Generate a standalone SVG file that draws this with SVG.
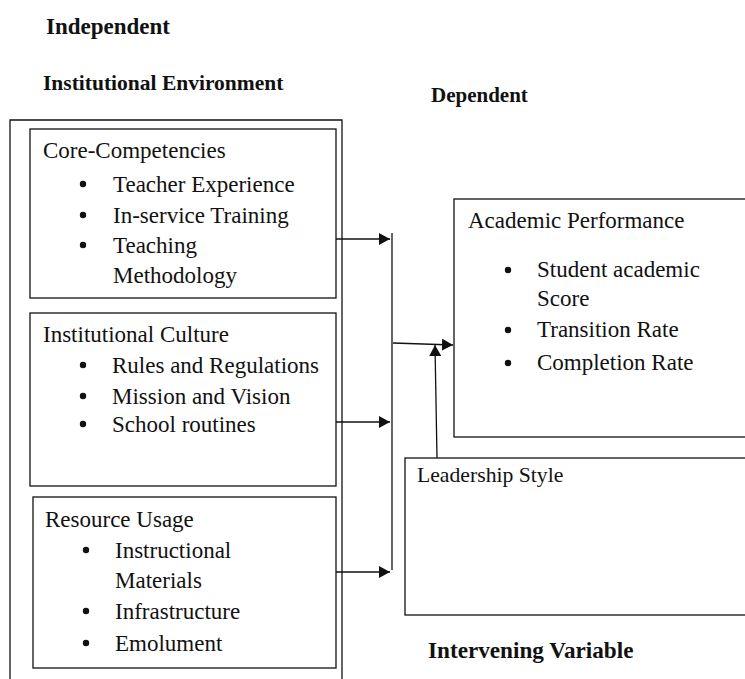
<svg xmlns="http://www.w3.org/2000/svg" width="745" height="679" viewBox="0 0 745 679" font-family="'Liberation Serif', 'Times New Roman', Times, serif">
<style>
text{font-family:"Liberation Serif","Times New Roman",Times,serif;fill:#111}
.h{font-weight:bold;font-size:22px}
.t{font-size:23px}
.s{font-size:21.7px}
.box{fill:none;stroke:#111;stroke-width:1.3}
.c{fill:none;stroke:#111;stroke-width:1.3}
.b{fill:#111}
</style>
<defs>
<marker id="ah" markerUnits="userSpaceOnUse" markerWidth="12" markerHeight="12" refX="11" refY="6" orient="auto">
<path d="M0,0 L11,6 L0,12 Z" fill="#111"/>
</marker>
</defs>
<rect width="745" height="679" fill="#fff"/>
<g id="labels">
<text class="h" x="46" y="34" style="font-size:23px">Independent</text>
<text class="h" x="43" y="90" style="font-size:21.5px">Institutional Environment</text>
<text class="h" x="431" y="102" style="font-size:21px">Dependent</text>
<text class="h" x="428" y="658" style="font-size:23.2px">Intervening Variable</text>
</g>
<g id="institutional-environment">
<path class="box" d="M10,690 V120 H342 V690"/>
</g>
<g id="core-competencies">
<rect class="box" x="30" y="129" width="306" height="169"/>
<text class="t" x="43" y="158">Core-Competencies</text>
<circle class="b" cx="83" cy="184" r="3.2"/><text class="t" x="113" y="192">Teacher Experience</text>
<circle class="b" cx="83" cy="215" r="3.2"/><text class="t" x="113" y="223">In-service Training</text>
<circle class="b" cx="83" cy="245" r="3.2"/><text class="t" x="113" y="253">Teaching</text>
<text class="t" x="113" y="283">Methodology</text>
</g>
<g id="institutional-culture">
<rect class="box" x="30" y="313" width="306" height="173"/>
<text class="t" x="43" y="342">Institutional Culture</text>
<circle class="b" cx="83" cy="365" r="3.2"/><text class="t" x="112" y="373">Rules and Regulations</text>
<circle class="b" cx="83" cy="396" r="3.2"/><text class="t" x="112" y="404">Mission and Vision</text>
<circle class="b" cx="83" cy="424" r="3.2"/><text class="t" x="112" y="432">School routines</text>
</g>
<g id="resource-usage">
<rect class="box" x="33" y="497" width="303" height="171"/>
<text class="t" x="45" y="527">Resource Usage</text>
<circle class="b" cx="86" cy="550" r="3.2"/><text class="t" x="115" y="558">Instructional</text>
<text class="t" x="115" y="588">Materials</text>
<circle class="b" cx="86" cy="611" r="3.2"/><text class="t" x="115" y="619">Infrastructure</text>
<circle class="b" cx="86" cy="643" r="3.2"/><text class="t" x="115" y="651">Emolument</text>
</g>
<g id="academic-performance">
<rect class="box" x="454" y="199" width="320" height="238"/>
<text class="t" x="468" y="228">Academic Performance</text>
<circle class="b" cx="508" cy="270" r="3.2"/><text class="t" x="537" y="277">Student academic</text>
<text class="t" x="537" y="306">Score</text>
<circle class="b" cx="508" cy="330" r="3.2"/><text class="t" x="537" y="337">Transition Rate</text>
<circle class="b" cx="508" cy="363" r="3.2"/><text class="t" x="537" y="370">Completion Rate</text>
</g>
<g id="leadership-style">
<rect class="box" x="405" y="458" width="360" height="157"/>
<text class="s" x="417" y="482">Leadership Style</text>
</g>
<g id="connectors">
<line class="c" x1="336" y1="239" x2="390" y2="239" marker-end="url(#ah)"/>
<line class="c" x1="336" y1="422" x2="390" y2="422" marker-end="url(#ah)"/>
<line class="c" x1="336" y1="572" x2="390" y2="572" marker-end="url(#ah)"/>
<line class="c" x1="392" y1="233" x2="392" y2="570"/>
<line class="c" x1="393" y1="343" x2="453" y2="345" marker-end="url(#ah)"/>
<line class="c" x1="437" y1="458" x2="435" y2="345" marker-end="url(#ah)"/>
</g>
</svg>
